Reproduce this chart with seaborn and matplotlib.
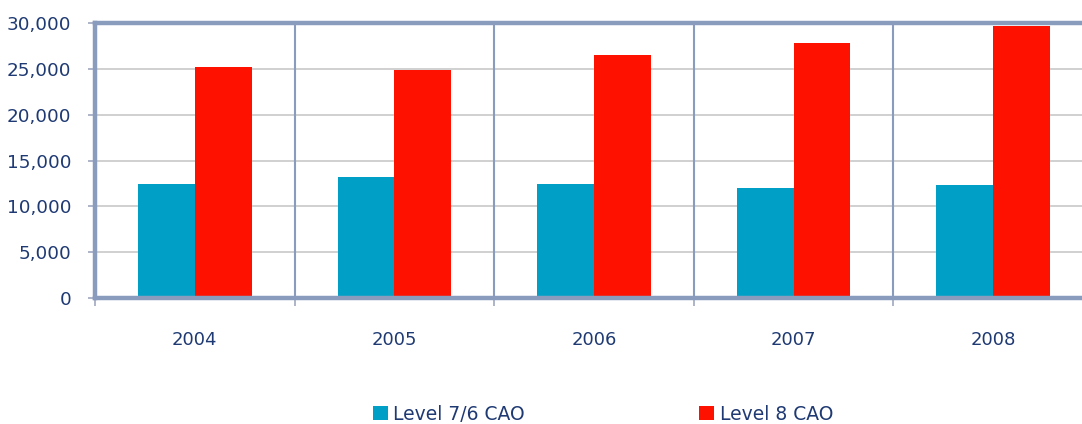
import matplotlib
matplotlib.use("Agg")
import matplotlib.pyplot as plt
import seaborn as sns
import pandas as pd
import numpy as np
from matplotlib.ticker import FuncFormatter, FixedLocator
from matplotlib.patches import Patch

years = ["2004", "2005", "2006", "2007", "2008"]
level76 = [12450, 13250, 12450, 12000, 12350]
level8 = [25200, 24850, 26500, 27800, 29700]
series_names = ["Level 7/6 CAO", "Level 8 CAO"]
colors = ["#00A0C6", "#FF1100"]

df = pd.DataFrame({
    "Year": years * 2,
    "Value": level76 + level8,
    "Series": [series_names[0]] * len(years) + [series_names[1]] * len(years),
})

sns.set_theme(style="white")
plt.rcParams['font.family'] = ['DejaVu Sans']

fig = plt.figure(figsize=(10.82, 4.24), dpi=100)
ax = fig.add_axes([95/1082, 1 - 298/424, 998/1082, 275/424])

sns.barplot(data=df, x="Year", y="Value", hue="Series", palette=colors,
            width=0.57, saturation=1, ax=ax, legend=False, gap=0, linewidth=0)

navy = "#1F3A73"
frame = "#8A9CBE"
ax.set_xlim(-0.5, 4.5)
ax.set_ylim(0, 30000)
ax.yaxis.set_major_locator(FixedLocator(np.arange(0, 30001, 5000)))
ax.yaxis.set_major_formatter(FuncFormatter(lambda v, p: f"{int(v):,}"))
ax.grid(axis="y", color="#C8C8C8", linewidth=1.2)
ax.set_axisbelow(True)
for xs in np.arange(0.5, 4.5, 1.0):
    ax.axvline(xs, color=frame, linewidth=1.5, zorder=1)

for s in ["top", "bottom", "left", "right"]:
    ax.spines[s].set_color(frame)
    ax.spines[s].set_linewidth(3.2)
    ax.spines[s].set_visible(True)

ax.set_xlabel("")
ax.set_ylabel("")
ax.tick_params(axis="y", colors=navy, labelsize=13.2, length=5, width=1.2, direction="out", left=True, pad=12)
ax.tick_params(axis="y", color="#A0A8C0")
ax.tick_params(axis="x", colors=navy, labelsize=13, length=0, pad=24)
for lbl in ax.get_yticklabels() + ax.get_xticklabels():
    lbl.set_color(navy)

ax.set_xticks(np.arange(-0.5, 4.6, 1.0), minor=True)
ax.tick_params(axis="x", which="minor", length=6, width=1.2, color="#A0A8C0", bottom=True)

handles = [Patch(facecolor=c, edgecolor="none") for c in colors]
leg = fig.legend(handles, series_names, loc="center", bbox_to_anchor=(603/1082, 1 - 414/424),
                 ncol=2, frameon=False, fontsize=13.5, handlelength=0.8, handleheight=0.8,
                 handletextpad=0.3, columnspacing=9.3)
for t in leg.get_texts():
    t.set_color(navy)

fig.savefig("out.png", dpi=100)
